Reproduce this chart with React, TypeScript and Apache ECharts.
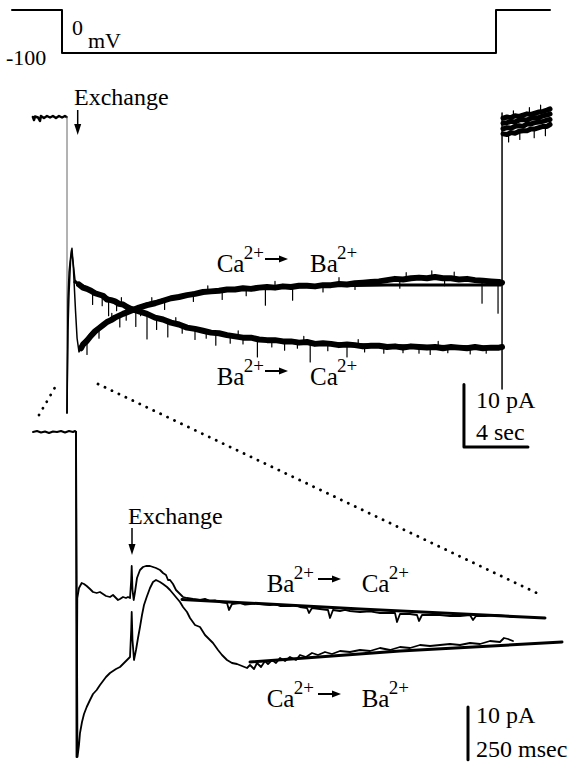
import React, { useEffect, useRef } from "react";
import * as echarts from "echarts";

const W = 570;
const H = 763;

// ---------- Voltage protocol (time s, potential mV) ----------
const protocol: number[][] = [
  [-3.125, -100], [0, -100], [0, 0], [27.125, 0], [27.125, -100], [30.5, -100],
];

// ---------- Slow panel (time s, current pA) ----------
const midPre: number[][] = [
  [-2.13, 0], [-2.06, -0.48], [-2.0, 0.08], [-1.81, -0.08], [-1.69, -0.64], [-1.63, 0.16],
  [-1.44, -0.16], [-1.25, 0.16], [-1.06, -0.08], [-0.88, 0.16], [-0.69, -0.16], [-0.5, 0.16],
  [-0.31, -0.08], [-0.13, 0.16], [-0.03, 0],
];
const midOnStep: number[][] = [[0, 0], [0, -47.36]];
const midTransBaToCa: number[][] = [
  [0, -47.36], [0.06, -29.3], [0.13, -24.8], [0.19, -23.2], [0.28, -21.3], [0.38, -23.2], [0.5, -26.1],
  [0.75, -26.8],
];
const midBaToCa: number[][] = [
  [0.75, -26.8], [1, -27.3], [1.25, -27.5], [1.5, -27.8], [1.75, -28.2], [2, -28.4], [2.25, -28.6],
  [2.5, -29.2], [2.75, -29.3], [3, -29.5], [3.25, -29.9], [3.5, -30.0], [3.75, -30.4], [4, -30.7],
  [4.5, -31.1], [5, -31.5], [5.5, -32.1], [6, -32.4], [6.5, -32.9], [7, -33.2], [7.5, -33.7],
  [8, -33.9], [8.5, -34.2], [9, -34.5], [9.5, -34.6], [10, -34.9], [10.5, -35.1], [11, -35.3],
  [11.5, -35.3], [12, -35.6], [12.5, -35.7], [13, -35.7], [13.5, -35.9], [14, -35.9], [14.5, -36.1],
  [15, -36.0], [15.5, -36.3], [16, -36.2], [16.5, -36.3], [17, -36.5], [17.5, -36.4], [18, -36.5],
  [18.5, -36.7], [19, -36.6], [19.5, -36.6], [20, -36.8], [20.5, -36.7], [21, -36.9], [21.5, -36.7],
  [22, -36.8], [22.5, -36.9], [23, -36.8], [23.5, -37.0], [24, -36.8], [24.5, -36.9], [25, -37.0],
  [25.5, -36.8], [26, -37.0], [26.5, -36.9], [27, -36.9], [27.19, -36.8],
];
const midBaToCaFit: number[][] = [
  [0.5, -26.4], [1, -27.04], [2, -28.32], [3, -29.44], [4, -30.56], [5, -31.52], [6, -32.48],
  [7, -33.28], [8, -33.92], [9, -34.4], [10, -34.88], [11, -35.2], [12, -35.52], [14, -35.84],
  [16, -36.16], [18, -36.4], [20, -36.56], [22, -36.64], [24, -36.72], [26, -36.8], [27.1, -36.8],
];
const midTransCaToBa: number[][] = [
  [0, -47.36], [0.06, -34.1], [0.13, -28.0], [0.22, -23.2], [0.31, -21.0], [0.4, -24.2], [0.53, -30.9],
  [0.63, -35.4], [0.75, -37.6], [0.88, -37.0],
];
const midCaToBa: number[][] = [
  [0.88, -37.0], [1, -36.4], [1.25, -35.8], [1.5, -35.0], [1.75, -34.3], [2, -33.8], [2.25, -33.3],
  [2.5, -32.8], [2.75, -32.5], [3, -32.1], [3.5, -31.5], [4, -31.0], [4.5, -30.5], [5, -30.1],
  [5.5, -29.8], [6, -29.4], [6.5, -29.0], [7, -28.8], [7.5, -28.5], [8, -28.3], [8.5, -28.0],
  [9, -27.9], [9.5, -27.8], [10, -27.6], [10.5, -27.6], [11, -27.4], [11.5, -27.5], [12, -27.3],
  [12.5, -27.2], [13, -27.3], [13.5, -27.1], [14, -27.2], [14.5, -27.0], [15, -27.0], [15.5, -27.1],
  [16, -26.9], [16.5, -26.9], [17, -26.7], [17.5, -26.8], [18, -26.6], [18.5, -26.5], [19, -26.4],
  [19.5, -26.3], [20, -26.1], [20.5, -25.9], [21, -26.0], [21.5, -25.8], [22, -25.7], [22.5, -25.8],
  [23, -25.6], [23.5, -25.8], [24, -25.8], [24.5, -26.0], [25, -25.9], [25.5, -26.1], [26, -26.2],
  [26.5, -26.3], [27, -26.4], [27.19, -26.5],
];
const midCaToBaFit: number[][] = [
  [0.8, -36.96], [1, -36.16], [1.5, -34.72], [2, -33.6], [3, -32.0], [4, -30.88], [5, -29.92],
  [6, -29.28], [7, -28.64], [8, -28.16], [9, -27.84], [10, -27.6], [12, -27.36], [14, -27.2],
  [16, -27.04], [18, -26.96], [20, -26.88], [24, -26.88], [27.1, -26.88],
];
// brief noise excursions: [time, band level, tip]
const midSpikes: number[][] = [
  [1.6, -28.0, -30.0], [2.2, -28.6, -30.2], [2.6, -29.2, -31.8], [3.1, -29.6, -31.0], [3.7, -30.3, -32.5],
  [4.3, -30.9, -33.5], [5.0, -31.5, -35.5], [5.6, -32.1, -34.0], [6.3, -32.7, -35.2], [7.2, -33.4, -34.6],
  [8.0, -33.9, -35.6], [8.7, -34.3, -35.4], [9.3, -34.5, -36.5], [10.2, -35.0, -36.2], [11.0, -35.3, -36.3],
  [11.9, -35.6, -38.4], [12.8, -35.7, -36.8], [13.6, -35.9, -37.3], [14.4, -36.0, -37.0], [15.2, -36.1, -39.2],
  [16.3, -36.3, -37.4], [17.5, -36.4, -38.4], [18.6, -36.6, -37.6], [19.8, -36.6, -37.8], [21.0, -36.8, -37.7],
  [22.0, -36.8, -37.8], [22.7, -36.8, -38.0], [23.8, -36.9, -37.7], [25.2, -36.9, -37.9], [26.2, -37.0, -37.8],
  [3.4, -29.9, -28.9], [6.8, -33.1, -32.1], [10.7, -35.1, -34.2], [14.8, -36.0, -35.1], [18.2, -36.5, -35.6],
  [23.2, -36.8, -35.9],
  [1.25, -35.8, -38.0], [2.0, -33.8, -35.4], [3.3, -31.8, -33.6], [4.6, -30.4, -31.8], [6.1, -29.4, -30.8],
  [7.9, -28.3, -29.5], [9.7, -27.7, -29.2], [11.2, -27.4, -28.6], [12.4, -27.3, -30.1], [14.1, -27.2, -29.3],
  [16.0, -26.9, -28.0], [18.0, -26.6, -27.6], [20.8, -26.0, -27.4], [23.6, -25.8, -27.0], [25.94, -26.1, -29.8],
  [26.94, -26.4, -31.4],
  [2.8, -32.5, -31.4], [5.3, -29.9, -28.9], [8.8, -27.9, -27.0], [13.0, -27.3, -26.3], [17.0, -26.7, -25.7],
  [21.2, -25.9, -24.9], [22.8, -25.7, -24.6], [24.2, -25.8, -24.8],
  [27.6, -2.8, -4.0], [28.3, -2.4, -3.6], [29.2, -2.0, -3.3], [29.9, -1.6, -3.0], [27.9, 0.1, 1.0],
  [28.9, 0.5, 1.5], [29.6, 0.9, 1.9],
];
const midOffStep: number[][] = [[27.19, -43.5], [27.19, 0.64]];
const tailTime = [27.25, 27.5, 27.75, 28.0, 28.25, 28.5, 28.75, 29.0, 29.25, 29.5, 29.75, 30.0, 30.19];
const midTailA = [-0.2, 0.0, -0.1, 0.2, 0.1, 0.3, 0.5, 0.4, 0.6, 0.8, 0.9, 1.1, 1.3];
const midTailB = [-1.0, -0.9, -0.7, -0.8, -0.5, -0.4, -0.5, -0.2, -0.1, -0.1, 0.2, 0.3, 0.5];
const midTailC = [-1.9, -1.7, -1.8, -1.5, -1.4, -1.5, -1.1, -1.1, -0.9, -0.8, -0.7, -0.5, -0.4];
const midTailD = [-2.7, -2.8, -2.5, -2.6, -2.3, -2.2, -2.2, -1.9, -1.9, -1.7, -1.5, -1.5, -1.2];
const midScaleBar: number[][] = [[24.81, -42.8], [24.81, -52.8], [28.81, -52.8]]; // 10 pA, 4 s

// ---------- Fast panel (time ms, current pA) ----------
const fastPre: number[][] = [
  [-210, 0], [-190, 0.19], [-170, -0.1], [-150, 0.1], [-130, -0.19], [-110, 0.1], [-90, 0],
  [-70, 0.19], [-50, -0.1], [-30, 0.19], [-10, 0], [0, 0.19], [5, 0],
];
const fastBaToCa: number[][] = [
  [5, 0], [7.5, -61.75], [11.5, -31.54], [20, -29.64], [33.5, -28.69], [45, -28.88], [58.5, -29.26],
  [75, -29.83], [90, -30.4], [108.5, -30.59], [125, -30.4], [140, -30.78], [155, -31.16], [175, -31.35],
  [190, -30.97], [205, -31.54], [215, -31.92], [225, -31.73], [240, -31.35], [255, -31.54], [265, -31.35],
  [275, -31.54], [281, -28.12], [283.5, -25.46], [287.5, -30.02], [293.5, -31.92], [300, -30.4],
  [310, -27.74], [325, -26.22], [340, -25.65], [355, -25.46], [375, -25.46], [390, -25.65], [405, -25.84],
  [425, -26.22], [440, -26.79], [455, -27.17], [465, -28.12], [475, -28.12], [490, -28.88], [505, -30.02],
  [525, -30.78], [540, -31.35], [560, -31.54], [590, -31.73], [625, -31.92], [650, -31.7], [675, -32.11],
  [700, -32.0], [725, -32.3], [760, -32.49], [770, -33.82], [785, -32.68], [825, -32.49], [850, -32.8],
  [875, -32.68], [900, -32.5], [925, -32.68], [975, -32.87], [1000, -32.7], [1025, -33.06], [1075, -33.06],
  [1100, -32.9], [1125, -33.25], [1160, -33.44], [1170, -34.39], [1185, -33.44], [1225, -33.63],
  [1265, -33.82], [1275, -35.34], [1290, -33.82], [1325, -34.01], [1350, -33.8], [1375, -34.01],
  [1425, -34.2], [1475, -34.1], [1525, -34.39], [1600, -34.39], [1610, -36.1], [1625, -34.58],
  [1675, -34.58], [1710, -34.77], [1720, -35.91], [1735, -34.77], [1775, -34.77], [1825, -34.77],
  [1875, -34.96], [1925, -34.96], [1975, -34.77], [1990, -35.72], [2005, -34.96], [2050, -34.96],
  [2100, -34.77], [2150, -34.96], [2190, -35.15],
];
const fastBaToCaFit: number[][] = [[535, -31.83], [1425, -33.63], [2350, -35.34]];
const fastCaToBa: number[][] = [
  [5, 0], [12.5, -61.75], [20, -59.47], [25, -57.19], [35, -55.1], [45, -53.58], [58.5, -52.25],
  [75, -50.92], [90, -49.78], [108.5, -49.02], [125, -48.07], [140, -47.31], [155, -46.55], [175, -45.79],
  [190, -45.41], [205, -45.03], [225, -44.65], [240, -44.08], [255, -43.51], [265, -43.13], [275, -42.75],
  [281, -37.62], [283.5, -34.2], [287.5, -39.52], [295, -43.32], [305, -41.42], [315, -39.14],
  [325, -37.05], [335, -34.77], [345, -32.87], [358.5, -31.35], [375, -29.64], [390, -28.5], [405, -28.12],
  [425, -28.5], [440, -28.88], [460, -29.45], [475, -30.02], [500, -31.16], [525, -32.3], [540, -33.25],
  [560, -34.2], [575, -35.34], [600, -36.67], [625, -37.05], [650, -38.57], [675, -39.52], [690, -40.09],
  [715, -41.42], [735, -42.37], [760, -43.32], [785, -43.89], [810, -44.08], [835, -44.46], [860, -44.84],
  [875, -44.27], [895, -45.03], [910, -43.89], [930, -44.65], [950, -43.51], [965, -44.08], [985, -43.32],
  [1005, -43.89], [1025, -42.94], [1050, -43.51], [1075, -42.75], [1105, -43.32], [1125, -42.37],
  [1155, -42.75], [1185, -41.99], [1215, -42.37], [1250, -41.8], [1285, -42.18], [1325, -41.61],
  [1375, -41.8], [1425, -41.42], [1475, -41.61], [1525, -41.04], [1575, -41.42], [1625, -40.85],
  [1675, -41.04], [1725, -40.47], [1775, -40.66], [1825, -40.47], [1875, -40.28], [1925, -40.47],
  [1975, -40.09], [2025, -40.28], [2075, -39.71], [2125, -39.9], [2145, -39.14], [2165, -39.33],
  [2190, -39.71],
];
const fastCaToBaFit: number[][] = [[875, -43.7], [1625, -41.61], [2435, -39.9]];
const fastScaleBar: number[][] = [[1965, -52.25], [1965, -62.25]]; // 10 pA

// ---------- Labels ----------
const FONT = "Liberation Serif";

function txt(s: string, x: number, y: number, size = 24): any {
  return {
    type: "text",
    x,
    y,
    silent: true,
    style: { text: s, fill: "#000", fontSize: size, fontFamily: FONT, align: "left", verticalAlign: "middle" },
  };
}
function ion(sym: string, x: number, baseline: number): any[] {
  return [txt(sym, x, baseline - 8, 25), txt("2+", x + 27, baseline - 19, 19)];
}
function hArrow(x1: number, x2: number, y: number): any[] {
  return [
    { type: "line", silent: true, shape: { x1, y1: y, x2: x2 - 7, y2: y }, style: { stroke: "#000", lineWidth: 2 } },
    { type: "polygon", silent: true, shape: { points: [[x2 - 9, y - 3.5], [x2 - 9, y + 3.5], [x2, y]] }, style: { fill: "#000" } },
  ];
}
function vArrow(x: number, y1: number, y2: number): any[] {
  return [
    { type: "line", silent: true, shape: { x1: x, y1, x2: x, y2: y2 - 8 }, style: { stroke: "#000", lineWidth: 1.5 } },
    { type: "polygon", silent: true, shape: { points: [[x - 3.5, y2 - 11], [x + 3.5, y2 - 11], [x, y2]] }, style: { fill: "#000" } },
  ];
}
function dotted(x1: number, y1: number, x2: number, y2: number): any {
  return {
    type: "line",
    silent: true,
    shape: { x1, y1, x2, y2 },
    style: { stroke: "#000", lineWidth: 2.8, lineDash: [0.1, 7.6], lineCap: "round" },
  };
}

function ln(data: any[], axis: number, width: number, color = "#000", z = 2): any {
  return {
    type: "line",
    data,
    xAxisIndex: axis,
    yAxisIndex: axis,
    showSymbol: false,
    symbol: "none",
    silent: true,
    clip: false,
    connectNulls: false,
    z,
    lineStyle: { color, width, cap: "round", join: "round" },
  };
}
const zip = (t: number[], v: number[]) => t.map((x, i) => [x, v[i]]);
const spikeSegments = (s: number[][]) => {
  const out: any[] = [];
  s.forEach(([t, a, b]) => {
    out.push([t, a], [t, b], [t, "-"]);
  });
  return out;
};

export default function App() {
  const ref = useRef<HTMLDivElement>(null);
  useEffect(() => {
    document.body.style.margin = "0";
    const chart = echarts.init(ref.current!, null, { renderer: "svg" });
    const full = { left: 0, right: 0, top: 0, bottom: 0 };
    const option: any = {
      animation: false,
      backgroundColor: "#fff",
      grid: [full, full, full],
      xAxis: [
        { type: "value", gridIndex: 0, min: -3.875, max: 31.75, show: false },
        { type: "value", gridIndex: 1, min: -67 / 16, max: (570 - 67) / 16, show: false },
        { type: "value", gridIndex: 2, min: -375, max: 2475, show: false },
      ],
      yAxis: [
        { type: "value", gridIndex: 0, inverse: true, min: -123.26, max: 1651.2, show: false },
        { type: "value", gridIndex: 1, min: -103.36, max: 18.72, show: false },
        { type: "value", gridIndex: 2, min: -62.89, max: 82.08, show: false },
      ],
      series: [
        ln(protocol, 0, 2),
        ln(midPre, 1, 2.5),
        ln(midOnStep, 1, 1, "#666"),
        ln(midTransBaToCa, 1, 1.5),
        ln(midTransCaToBa, 1, 1.5),
        ln(midBaToCa, 1, 6),
        ln(midCaToBa, 1, 6),
        ln(midBaToCaFit, 1, 3, "#000", 3),
        ln(midCaToBaFit, 1, 3, "#000", 3),
        ln(spikeSegments(midSpikes), 1, 1.2),
        ln(midOffStep, 1, 1.5),
        ln(zip(tailTime, midTailA), 1, 5),
        ln(zip(tailTime, midTailB), 1, 5),
        ln(zip(tailTime, midTailC), 1, 5),
        ln(zip(tailTime, midTailD), 1, 5),
        ln(midScaleBar, 1, 3),
        ln(fastPre, 2, 2),
        ln(fastBaToCa, 2, 1.8),
        ln(fastCaToBa, 2, 1.8),
        ln(fastBaToCaFit, 2, 3, "#000", 3),
        ln(fastCaToBaFit, 2, 3, "#000", 3),
        ln(fastScaleBar, 2, 3),
      ],
      graphic: [
        txt("-100", 6, 57, 22),
        txt("0", 72, 27, 22),
        txt("mV", 88, 40, 22),
        txt("Exchange", 74, 97, 24),
        ...vArrow(77.7, 110, 135),
        ...ion("Ca", 216.7, 271.7),
        ...hArrow(265, 288, 259),
        ...ion("Ba", 310, 271.7),
        ...ion("Ba", 216.7, 384),
        ...hArrow(265, 288, 371),
        ...ion("Ca", 310, 384),
        txt("10 pA", 476, 400, 24),
        txt("4 sec", 476, 432, 24),
        dotted(39, 415, 57, 384),
        dotted(98, 384, 541, 595),
        txt("Exchange", 128, 516, 24),
        ...vArrow(132, 528, 555),
        ...ion("Ba", 266.7, 591.7),
        ...hArrow(318, 341, 579),
        ...ion("Ca", 361.7, 591.7),
        ...ion("Ca", 266.7, 706.7),
        ...hArrow(318, 341, 694),
        ...ion("Ba", 361.7, 706.7),
        txt("10 pA", 476, 715, 24),
        txt("250 msec", 476, 749, 24),
      ],
    };
    chart.setOption(option);
    return () => chart.dispose();
  }, []);
  return <div ref={ref} style={{ width: W, height: H, background: "#fff" }} />;
}
